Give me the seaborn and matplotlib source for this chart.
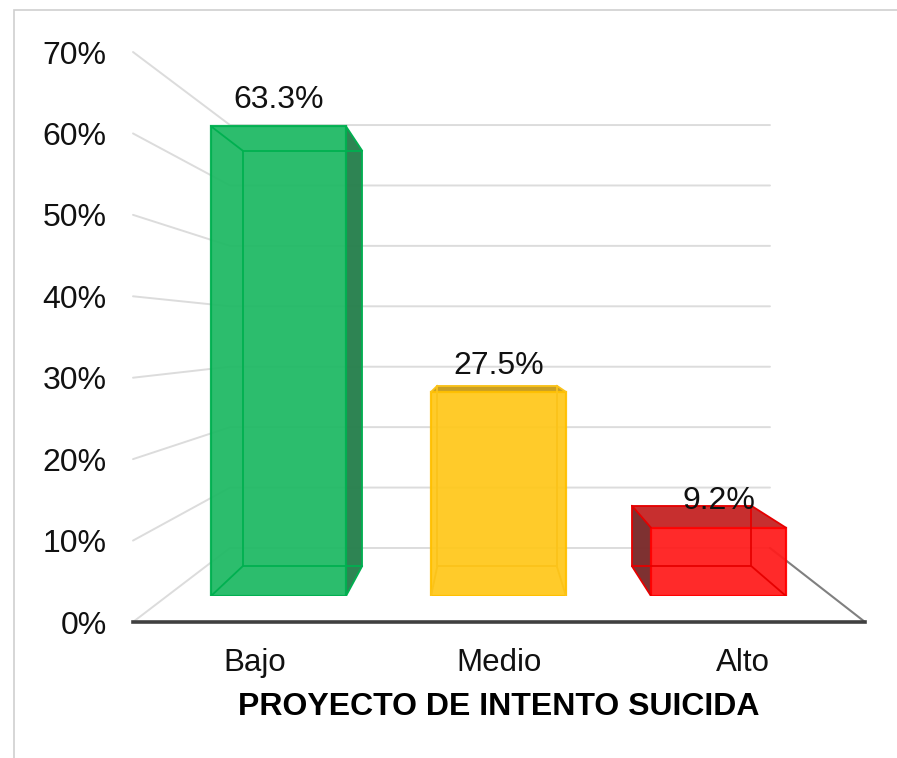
import matplotlib
matplotlib.use('Agg')
import matplotlib.pyplot as plt
from matplotlib.patches import Polygon, Rectangle
from matplotlib.ticker import PercentFormatter
import seaborn as sns
import pandas as pd

# Datos del grafico
categorias = ['Bajo', 'Medio', 'Alto']
porcentajes = [63.3, 27.5, 9.2]
ticks_y = [0, 10, 20, 30, 40, 50, 60, 70]
titulo_x = 'PROYECTO DE INTENTO SUICIDA'

color_frente = ['#1fb964', '#ffc81c', '#ff1c1c']
color_borde = ['#00b050', '#ffc000', '#ff0000']
color_interior = ['#00b050', '#fbc31a', '#e60000']
color_oscuro = ['#27804d', '#c89c1e', '#c62828']
color_lado = ['#27804d', '#c89c1e', '#7a2a2a']

W, H = 897, 758


def caja(x0, y0, x1, y1):
    # posicion de un axes a partir de pixeles de la imagen
    return [x0 / W, 1 - y1 / H, (x1 - x0) / W, (y1 - y0) / H]


sns.set_theme(style='white')
plt.rcParams['font.family'] = ['Liberation Sans', 'DejaVu Sans']

fig = plt.figure(figsize=(W / 100, H / 100), dpi=100)

# marco exterior de la imagen
fig.add_artist(Rectangle((14 / W, -0.1), 1.1, 1.1 - 10 / H, transform=fig.transFigure,
                         fill=False, edgecolor='#cfcfcf', linewidth=1.2))

# Paredes y piso
ax_pared = fig.add_axes(caja(133, 52, 865, 622))
ax_pared.set_xlim(-0.5, 2.5)
ax_pared.set_ylim(0, 70)
ax_pared.set_xticks(range(len(categorias)))
ax_pared.set_xticklabels(categorias, fontsize=22.5, color='#111111')
ax_pared.set_yticks(ticks_y)
ax_pared.yaxis.set_major_formatter(PercentFormatter(decimals=0))
ax_pared.tick_params(axis='y', length=0, pad=19, labelsize=23, labelcolor='#111111')
ax_pared.tick_params(axis='x', length=0, pad=19)
ax_pared.set_xlabel(titulo_x, fontsize=23, fontweight='bold', color='black', labelpad=10)
sns.despine(ax=ax_pared, left=True, top=True, right=True)
ax_pared.spines['bottom'].set_color('#404040')
ax_pared.spines['bottom'].set_linewidth(2.6)
ax_pared.patch.set_alpha(0)

fondo_izq, fondo_der = -0.1025, 2.1105
for t in ticks_y:
    y_fondo = 9.09 + 0.742 * t
    ax_pared.plot([-0.5, fondo_izq, fondo_der], [t, y_fondo, y_fondo], color='#dcdcdc',
                  linewidth=1.4, clip_on=False, zorder=1)
ax_pared.plot([fondo_der, 2.5], [9.09, 0], color='#808080', linewidth=1.5, zorder=1)

# Barras con la libreria
ax = fig.add_axes(caja(168.5, 76.6, 828.5, 596))
ax.patch.set_alpha(0)
df = pd.DataFrame({'categoria': categorias, 'valor': porcentajes})
sns.barplot(data=df, x='categoria', y='valor', hue='categoria', palette=color_frente,
            saturation=1, width=135 / 220, legend=False, ax=ax, alpha=0.94, zorder=3)
ax.set_xlim(-0.5, 2.5)
ax.set_ylim(0, 70)
ax.axis('off')

# Cara de fondo de cada barra, proyectada desde la cara frontal
escala = 0.884
punto_x = 0.943


def atras(x, y):
    return punto_x + escala * (x - punto_x), 4.04 + escala * y


for i, barra in enumerate(ax.patches[:len(categorias)]):
    x0, x1 = barra.get_x(), barra.get_x() + barra.get_width()
    alto = barra.get_height()
    barra.set_edgecolor(color_borde[i])
    barra.set_linewidth(1.6)

    fr = [(x0, 0), (x1, 0), (x1, alto), (x0, alto)]
    fo = [atras(*p) for p in fr]

    # caras que se ven desde fuera van mas oscuras
    if fo[2][1] > fr[2][1]:
        ax.add_patch(Polygon([fr[3], fr[2], fo[2], fo[3]], facecolor=color_oscuro[i],
                             edgecolor='none', alpha=0.97, zorder=2))
    if fo[1][0] > fr[1][0]:
        ax.add_patch(Polygon([fr[1], fr[2], fo[2], fo[1]], facecolor=color_lado[i],
                             edgecolor='none', alpha=0.97, zorder=2))
    if fo[0][0] < fr[0][0]:
        ax.add_patch(Polygon([fr[0], fr[3], fo[3], fo[0]], facecolor=color_lado[i],
                             edgecolor='none', alpha=0.97, zorder=2))

    ax.add_patch(Polygon(fo, fill=False, edgecolor=color_interior[i], linewidth=1.3, zorder=4))
    for a, b in zip(fr, fo):
        ax.plot([a[0], b[0]], [a[1], b[1]], color=color_interior[i], linewidth=1.3, zorder=4)

    ax.annotate(f'{porcentajes[i]}%', (barra.get_x() + barra.get_width() / 2, alto),
                xytext=(0, 19), textcoords='offset points', ha='center', va='center',
                fontsize=23, color='#111111', zorder=6)

fig.savefig('out.png', dpi=100)
